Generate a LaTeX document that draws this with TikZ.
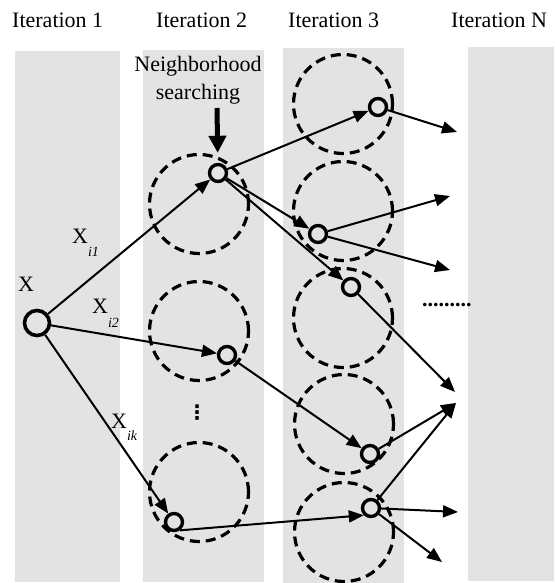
\documentclass[tikz,border=0pt]{standalone}
\usepackage{fontspec}
\setmainfont{Liberation Serif}
\newfontfamily\symfont{DejaVu Sans}
\usetikzlibrary{arrows.meta}
\definecolor{colgray}{RGB}{227,227,227}
\newcommand\lowsub[2]{\raisebox{-#1}{\fontsize{14pt}{14pt}\selectfont\itshape #2}}
\begin{document}
\begin{tikzpicture}[x=1pt,y=-1pt,
  nbhd/.style={draw,line width=3.2pt,dash pattern=on 10pt off 6pt},
  pt/.style={circle,draw,line width=3.4pt,minimum size=17pt,inner sep=0pt},
  bigpt/.style={circle,draw,line width=3.6pt,minimum size=25pt,inner sep=0pt},
  arr/.style={line width=2pt,-{Triangle[length=15pt,width=12pt]}},
  bigarr/.style={line width=5pt,-{Triangle[length=17pt,width=17pt]}},
  lab/.style={font=\fontsize{22pt}{26pt}\selectfont,inner sep=0pt}]
\useasboundingbox (0,0) rectangle (554,583);
% columns
\fill[colgray] (15,51) rectangle (120,582);
\fill[colgray] (143,50) rectangle (264,582);
\fill[colgray] (283,48) rectangle (404,583);
\fill[colgray] (468,47) rectangle (554,581);
% neighbourhoods
\draw[nbhd] (199,204) circle[radius=49.5pt];
\draw[nbhd] (199,331) circle[radius=49.5pt];
\draw[nbhd] (199,492) circle[radius=49.5pt];
\draw[nbhd] (343,104) circle[radius=49.5pt];
\draw[nbhd] (343,211) circle[radius=49.5pt];
\draw[nbhd] (343,318) circle[radius=49.5pt];
\draw[nbhd] (344,424) circle[radius=49.5pt];
\draw[nbhd] (344,532) circle[radius=49.5pt];
% titles
\node[lab,anchor=base west] (it1) at (12,28) {Iteration 1};
\node[lab,anchor=base west] (it2) at (156,28) {Iteration 2};
\node[lab,anchor=base west] (it3) at (288,28) {Iteration 3};
\node[lab,anchor=base west] (itN) at (451,28) {Iteration N};
\node[lab,anchor=base] (nb1) at (198,72) {Neighborhood};
\node[lab,anchor=base] (nb2) at (198,100) {searching};
% points
\node[bigpt] (X) at (37,323) {};
\node[pt] (A1) at (218,173) {};
\node[pt] (A2) at (227,355) {};
\node[pt] (A3) at (174,522) {};
\node[pt] (B1) at (378,107) {};
\node[pt] (B2) at (318,234) {};
\node[pt] (B3) at (351,287) {};
\node[pt] (B4) at (370,454) {};
\node[pt] (B5) at (371,508) {};
% labels
\node[lab,anchor=base west] (lX) at (18,291) {X};
\node[lab,anchor=base west] (l1) at (72,243) {X\lowsub{13pt}{i1}};
\node[lab,anchor=base west] (l2) at (92,313) {X\lowsub{14pt}{i2}};
\node[lab,anchor=base west] (lk) at (111,428) {X\lowsub{12pt}{ik}};
\node[lab,font=\fontsize{22pt}{26pt}\selectfont\bfseries,anchor=base west] (dots) at (422,306) {.........};
\node[inner sep=0pt,font=\fontsize{20pt}{24pt}\selectfont\symfont\bfseries] (vd) at (197,413) {⋮};
% free ends
\coordinate (ns) at (217,108);
\coordinate (o1) at (457,132);
\coordinate (o2) at (450,196);
\coordinate (o3) at (450,270);
\coordinate (c1) at (455,392);
\coordinate (c2) at (456,403);
\coordinate (o5) at (458,512);
\coordinate (o6) at (442,562);
% connectors
\draw[bigarr,shorten >=10pt] (ns) -- (A1);
\draw[arr] (X) -- (A1);
\draw[arr] (X) -- (A2);
\draw[arr] (X) -- (A3);
\draw[arr] (A1) -- (B1);
\draw[arr] (A1) -- (B2);
\draw[arr] (A1) -- (B3);
\draw[arr] (A2) -- (B4);
\draw[arr] (A3.-55) -- (B5.225);
\draw[arr] (B1) -- (o1);
\draw[arr] (B2) -- (o2);
\draw[arr] (B2) -- (o3);
\draw[arr] (B3) -- (c1);
\draw[arr] (B4) -- (c2);
\draw[arr] (B5) -- (c2);
\draw[arr] (B5) -- (o5);
\draw[arr] (B5) -- (o6);
\end{tikzpicture}
\end{document}
